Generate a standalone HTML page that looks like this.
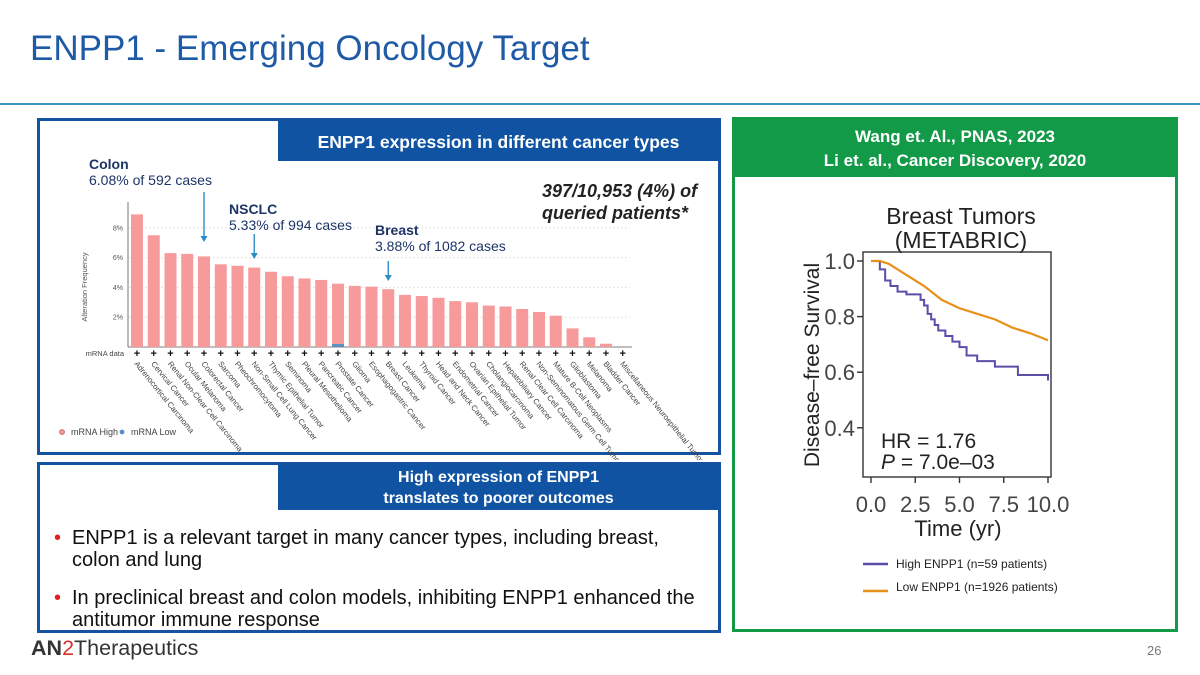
<!DOCTYPE html>
<html><head><meta charset="utf-8"><style>
*{margin:0;padding:0;box-sizing:border-box}
body{width:1200px;height:675px;background:#fff;position:relative;overflow:hidden;font-family:"Liberation Sans",Arial,sans-serif}
.abs{position:absolute}
.hdr{position:absolute;background:#0f53a2;color:#fff;font-weight:bold;font-size:17.5px;text-align:center}
.box{position:absolute;border:3px solid #1553a0}
.note{position:absolute;color:#1d3466;font-size:14px;line-height:16px}
.bul{position:absolute;left:72px;font-size:20px;line-height:22px;color:#111}
.bul:before{content:"•";color:#e02020;position:absolute;left:-18px;font-size:20px}
</style></head><body>
<div class="abs" style="left:30px;top:29px;font-size:35px;color:#1f5aa6">ENPP1 - Emerging Oncology Target</div>
<div class="abs" style="left:0;top:103px;width:1200px;height:2px;background:#3f93c4"></div>

<div class="box" style="left:37px;top:118px;width:684px;height:337px"></div>
<div class="hdr" style="left:278px;top:121px;width:441px;height:40px;line-height:42px">ENPP1 expression in different cancer types</div>

<svg class="abs" style="left:0;top:0" width="730" height="460" id="bars"></svg>

<div class="note" style="left:89px;top:156px"><b>Colon</b><br>6.08% of 592 cases</div>
<div class="note" style="left:229px;top:201px"><b>NSCLC</b><br>5.33% of 994 cases</div>
<div class="note" style="left:375px;top:222px"><b>Breast</b><br>3.88% of 1082 cases</div>
<div class="abs" style="left:542px;top:180px;font-size:18px;line-height:22px;font-weight:bold;font-style:italic;color:#222">397/10,953 (4%) of<br>queried patients*</div>

<div class="box" style="left:37px;top:462px;width:684px;height:171px"></div>
<div class="hdr" style="left:278px;top:465px;width:441px;height:45px;line-height:21px;padding-top:2px;font-size:16px">High expression of ENPP1<br>translates to poorer outcomes</div>
<div class="bul" style="top:527px">ENPP1 is a relevant target in many cancer types, including breast,<br>colon and lung</div>
<div class="bul" style="top:587px">In preclinical breast and colon models, inhibiting ENPP1 enhanced the<br>antitumor immune response</div>

<div class="abs" style="left:31px;top:636px;font-size:21.5px;color:#333"><span style="font-weight:bold">AN</span><span style="color:#d9312b">2</span>Therapeutics</div>

<div class="abs" style="left:732px;top:117px;width:446px;height:515px;border:3px solid #129a48"></div>
<div class="abs" style="left:732px;top:117px;width:446px;height:60px;background:#129a48;color:#fff;font-weight:bold;font-size:17px;line-height:24px;text-align:center;padding-top:8px">Wang et. Al., PNAS, 2023<br>Li et. al., Cancer Discovery, 2020</div>

<svg class="abs" style="left:0;top:0" width="1200" height="675" id="km"></svg>

<div class="abs" style="left:1147px;top:643px;font-size:13px;color:#777">26</div>

<script>
const categories=["Adrenocortical Carcinoma","Cervical Cancer","Renal Non-Clear Cell Carcinoma","Ocular Melanoma","Colorectal Cancer","Sarcoma","Pheochromocytoma","Non-Small Cell Lung Cancer","Thymic Epithelial Tumor","Seminoma","Pleural Mesothelioma","Pancreatic Cancer","Prostate Cancer","Glioma","Esophagogastric Cancer","Breast Cancer","Leukemia","Thyroid Cancer","Head and Neck Cancer","Endometrial Cancer","Ovarian Epithelial Tumor","Cholangiocarcinoma","Hepatobiliary Cancer","Renal Clear Cell Carcinoma","Non-Seminomatous Germ Cell Tumor","Mature B-Cell Neoplasms","Glioblastoma","Melanoma","Bladder Cancer","Miscellaneous Neuroepithelial Tumor"];
const highValues=[8.9,7.5,6.3,6.25,6.08,5.55,5.45,5.33,5.05,4.75,4.6,4.5,4.25,4.1,4.05,3.88,3.5,3.42,3.3,3.08,3.0,2.78,2.72,2.55,2.35,2.1,1.25,0.65,0.22,0];
const lowValues=[0,0,0,0,0,0,0,0,0,0,0,0,0.2,0,0,0,0,0,0,0,0,0,0,0,0,0,0,0,0,0];
const yTicks=[2,4,6,8];
const kmHighT=[0,0.5,0.8,1.1,1.5,2.0,2.8,3.0,3.2,3.4,3.6,3.8,4.2,4.6,5.0,5.4,6.0,7.0,8.3,10];
const kmHighS=[1,0.97,0.93,0.91,0.89,0.88,0.86,0.84,0.81,0.79,0.77,0.75,0.73,0.71,0.69,0.66,0.64,0.62,0.59,0.57];
const kmLowT=[0,0.5,1,2,3,4,5,6,7,8,9,10];
const kmLowS=[1,1,0.99,0.95,0.91,0.86,0.83,0.81,0.79,0.76,0.74,0.715];
const xTicksKM=[0,2.5,5,7.5,10];
const yTicksKM=[0.4,0.6,0.8,1.0];

const NS="http://www.w3.org/2000/svg";
function mk(svg,tag,attrs,txt){const e=document.createElementNS(NS,tag);for(const k in attrs)e.setAttribute(k,attrs[k]);if(txt!=null)e.textContent=txt;svg.appendChild(e);return e;}

// bar chart
const bs=document.getElementById('bars');
const x0=137,step=16.75,bw=12,base=347,pxPer=14.9;
const bx=i=>x0+step*i, by=v=>base-v*pxPer;
yTicks.forEach(t=>{
  const g=mk(bs,'line',{x1:129,x2:630,y1:by(t),y2:by(t),stroke:'#e4e4e4','stroke-dasharray':'2,2'});
  
  
  const l=mk(bs,'text',{x:123,y:by(t)+2.5,'font-size':7,'text-anchor':'end',fill:'#555'},t+'%');
  
  
});
mk(bs,'line',{x1:128,x2:128,y1:202,y2:base,stroke:'#555','stroke-width':0.8});
mk(bs,'line',{x1:128,x2:632,y1:base,y2:base,stroke:'#555','stroke-width':0.8});
const yl=mk(bs,'text',{x:0,y:0,'font-size':7.5,fill:'#555','text-anchor':'middle',transform:'translate(87,287) rotate(-90)'},'Alteration Frequency');


const md=mk(bs,'text',{x:124,y:356,'font-size':7.5,fill:'#444','text-anchor':'end'},'mRNA data');


categories.forEach((c,i)=>{
  const cx=bx(i);
  const hv=highValues[i], lv=lowValues[i];
  if(hv>0){
    const r=mk(bs,'rect',{x:cx-bw/2,y:by(hv),width:bw,height:(hv)*pxPer,fill:'#f79a9c'});
    
    
  }
  if(lv>0){
    const r=mk(bs,'rect',{x:cx-bw/2,y:by(lv),width:bw,height:lv*pxPer,fill:'#5b8fc2'});
    
    
  }
  const p=mk(bs,'text',{x:cx,y:357,'font-size':11,'font-weight':'bold','text-anchor':'middle',fill:'#111'},'+');
  
  
  const t=mk(bs,'text',{x:0,y:0,'font-size':7.8,fill:'#444',transform:`translate(${cx-3},${364}) rotate(51)`},c);
  
  
});
// legend
mk(bs,'circle',{cx:62,cy:432,r:2.4,fill:'#f79a9c',stroke:'#a55',"stroke-width":0.8});
const lg1=mk(bs,'text',{x:71,y:435,'font-size':9,fill:'#444'},'mRNA High');


mk(bs,'circle',{cx:122,cy:432,r:2.4,fill:'#5b8fc2'});
const lg2=mk(bs,'text',{x:131,y:435,'font-size':9,fill:'#444'},'mRNA Low');


// arrows
function arrow(x,y1,y2){mk(bs,'line',{x1:x,x2:x,y1:y1,y2:y2-4,stroke:'#2b8cc4','stroke-width':1.4});mk(bs,'path',{d:`M${x-3.5},${y2-6}L${x+3.5},${y2-6}L${x},${y2}Z`,fill:'#2b8cc4'});}
arrow(bx(4),192,242);arrow(bx(7),234,259);arrow(bx(15),261,281);

// KM chart
const km=document.getElementById('km');
const L=863,T=252,R=1051,B=477;
const kx=t=>871+t*17.7, ky=s=>261+(1-s)*278;
mk(km,'text',{x:961,y:224,'font-size':23,'text-anchor':'middle',fill:'#222'},'Breast Tumors');
mk(km,'text',{x:961,y:248,'font-size':23,'text-anchor':'middle',fill:'#222'},'(METABRIC)');
mk(km,'rect',{x:L,y:T,width:R-L,height:B-T,fill:'none',stroke:'#333','stroke-width':1.4});
yTicksKM.forEach(v=>{
  mk(km,'line',{x1:L-6,x2:L,y1:ky(v),y2:ky(v),stroke:'#333','stroke-width':1.4});
  const l=mk(km,'text',{x:L-8,y:ky(v)+8,'font-size':22,'text-anchor':'end',fill:'#444'},v.toFixed(1));
  
  
});
xTicksKM.forEach(v=>{
  mk(km,'line',{x1:kx(v),x2:kx(v),y1:B,y2:B+6,stroke:'#333','stroke-width':1.4});
  const l=mk(km,'text',{x:kx(v),y:512,'font-size':22,'text-anchor':'middle',fill:'#444'},v.toFixed(1));
  
  
});
const xt=mk(km,'text',{x:958,y:536,'font-size':22,'text-anchor':'middle',fill:'#222'},'Time (yr)');


const yt=mk(km,'text',{x:0,y:0,'font-size':21,'text-anchor':'middle',fill:'#222',transform:'translate(819,365) rotate(-90)'},'Disease–free Survival');


mk(km,'text',{x:881,y:448,'font-size':21,fill:'#222'},'HR = 1.76');
const pt=mk(km,'text',{x:881,y:469,'font-size':21,fill:'#222'});
pt.innerHTML='<tspan font-style="italic">P</tspan> = 7.0e–03';
let d='';
kmHighT.forEach((t,i)=>{ if(i===0)d+=`M${kx(t)},${ky(kmHighS[i])}`; else d+=`H${kx(t)}V${ky(kmHighS[i])}`;});
d+=`H${kx(10)}`;
const hp=mk(km,'path',{d:d,fill:'none',stroke:'#5a4fa8','stroke-width':2});


const lp=mk(km,'polyline',{points:kmLowT.map((t,i)=>kx(t)+','+ky(kmLowS[i])).join(' '),fill:'none',stroke:'#e8901a','stroke-width':2.2});


mk(km,'line',{x1:863,x2:888,y1:564,y2:564,stroke:'#5a4fa8','stroke-width':2.5});
const l1=mk(km,'text',{x:896,y:568,'font-size':12,fill:'#222'},'High ENPP1 (n=59 patients)');


mk(km,'line',{x1:863,x2:888,y1:591,y2:591,stroke:'#e8901a','stroke-width':2.5});
const l2=mk(km,'text',{x:896,y:591,'font-size':12,fill:'#222'},'Low ENPP1 (n=1926 patients)');


</script>
</body></html>
